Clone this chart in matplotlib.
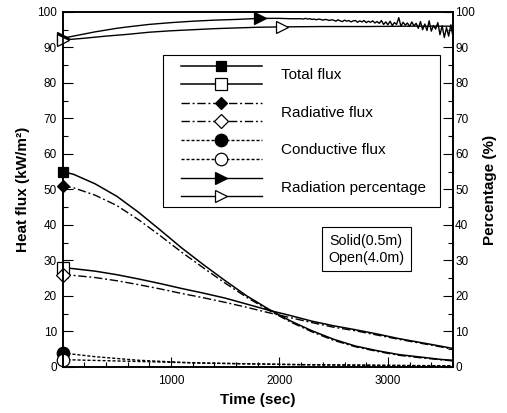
import matplotlib
matplotlib.use("Agg")
import matplotlib.pyplot as plt
from matplotlib.lines import Line2D
from matplotlib.legend_handler import HandlerBase
from matplotlib.ticker import MultipleLocator

plt.rcParams["font.family"] = ["Liberation Sans", "DejaVu Sans"]
plt.rcParams["lines.scale_dashes"] = False

# heat flux, case A (filled markers) and case B (open markers)
t_flux = [0, 100, 300, 500, 700, 900, 1100, 1300, 1500, 1700,
          1900, 2100, 2300, 2500, 2700, 2900, 3100, 3300, 3500, 3600]
total_a = [55.0, 54.3, 51.6, 48.1, 43.6, 38.6, 33.5, 28.8, 24.3, 20.0,
           16.3, 13.0, 10.2, 7.8, 5.9, 4.6, 3.5, 2.8, 2.1, 1.9]
rad_a = [51.0, 50.5, 48.4, 45.5, 41.5, 37.0, 32.3, 27.9, 23.6, 19.6,
         16.0, 12.7, 9.9, 7.5, 5.7, 4.4, 3.3, 2.6, 2.0, 1.7]
cond_a = [4.0, 3.6, 2.9, 2.4, 1.9, 1.6, 1.3, 1.1, 1.0, 0.9,
          0.8, 0.7, 0.6, 0.55, 0.5, 0.45, 0.4, 0.35, 0.3, 0.3]
total_b = [28.0, 27.7, 27.0, 26.0, 24.8, 23.5, 22.1, 20.8, 19.4, 17.7,
           16.0, 14.5, 12.9, 11.6, 10.5, 9.3, 8.0, 6.9, 5.8, 5.2]
rad_b = [26.0, 25.8, 25.2, 24.3, 23.2, 22.0, 20.7, 19.5, 18.2, 16.8,
         15.3, 13.9, 12.5, 11.2, 10.2, 9.0, 7.8, 6.7, 5.6, 5.0]
cond_b = [2.1, 2.0, 1.85, 1.7, 1.55, 1.4, 1.25, 1.1, 1.0, 0.9,
          0.8, 0.7, 0.65, 0.6, 0.55, 0.5, 0.45, 0.4, 0.35, 0.35]

# radiation percentage
t_pct_a = [0, 100, 200, 300, 400, 500, 600, 800, 1000, 1200, 1400, 1600,
           1820, 2000, 2100] + list(range(2200, 3601, 20))
pct_a = [92.6, 93.2, 93.8, 94.4, 94.9, 95.4, 95.8, 96.5, 97.0, 97.4, 97.7, 97.9,
         98.2, 98.2, 98.1,
         98.1, 98.0, 98.2, 98.0, 98.1, 97.9, 98.0, 97.8, 98.0, 97.9, 97.7, 97.9,
         97.8, 97.6, 97.8, 97.7,
         97.4, 97.8, 97.5, 97.3, 97.7, 97.4, 97.6, 97.2, 97.5, 97.6, 97.1, 97.5,
         97.2, 97.6, 97.0, 97.4, 97.1, 97.5, 96.9, 97.3,
         96.8, 97.6, 96.5, 97.2, 96.4, 97.4, 96.2, 97.0, 96.5, 98.4, 96.0, 97.1,
         96.3, 96.9, 95.9, 97.2, 96.1, 96.8,
         95.4, 97.3, 95.0, 96.6, 94.8, 97.5, 94.6, 96.2, 95.2, 97.0, 93.6, 96.1,
         92.8, 95.6, 93.2, 96.4, 93.0]
t_pct_b = [0, 200, 400, 600, 800, 1000, 1200, 1400, 1600, 1800, 2020,
           2400, 2800, 3200, 3600]
pct_b = [92.1, 92.6, 93.2, 93.7, 94.3, 94.7, 95.0, 95.3, 95.5, 95.7, 95.8,
         95.9, 95.9, 96.0, 96.0]

labels = ["Total flux", "Radiative flux", "Conductive flux", "Radiation percentage"]

DASHDOT = (0, (6, 2, 1.4, 2))
DASHED = (0, (2.2, 1.4))


class PairHandler(HandlerBase):
    # two legend lines stacked above each other, one label for the pair
    def create_artists(self, legend, orig_handle, xdescent, ydescent,
                       width, height, fontsize, trans):
        artists = []
        yc = height / 2 - ydescent
        x0 = -xdescent + 0.14 * width
        x1 = -xdescent + width
        for k, h in enumerate(orig_handle):
            y = yc + (0.3 if k == 0 else -0.3) * height
            ln = Line2D([x0, x1], [y, y])
            ln.update_from(h)
            ln.set_marker("None")
            mk = Line2D([(x0 + x1) / 2], [y])
            mk.update_from(h)
            mk.set_linestyle("None")
            for a in (ln, mk):
                a.set_transform(trans)
                artists.append(a)
        return artists


fig = plt.figure(figsize=(5.07, 4.13), dpi=100)
ax = fig.add_axes([0.1233, 0.1114, 0.7702, 0.8596])
ax2 = ax.twinx()

kw = dict(color="black", clip_on=False, markeredgecolor="black", markeredgewidth=0.9)
l_ta, = ax.plot(t_flux, total_a, "-", lw=1.1, marker="s", ms=7.5, markevery=[0], **kw)
l_tb, = ax.plot(t_flux, total_b, "-", lw=1.1, marker="s", ms=8.5, mfc="white", markevery=[0], **kw)
l_ra, = ax.plot(t_flux, rad_a, ls=DASHDOT, lw=1.0, marker="D", ms=6.5, markevery=[0], **kw)
l_rb, = ax.plot(t_flux, rad_b, ls=DASHDOT, lw=1.0, marker="D", ms=7.5, mfc="white", markevery=[0], **kw)
l_ca, = ax.plot(t_flux, cond_a, ls=DASHED, lw=1.0, marker="o", ms=9, markevery=[0], **kw)
l_cb, = ax.plot(t_flux, cond_b, ls=DASHED, lw=1.0, marker="o", ms=9, mfc="white", markevery=[0], **kw)
l_pa, = ax2.plot(t_pct_a, pct_a, "-", lw=1.0, marker=">", ms=8, markevery=[0, 12], **kw)
l_pb, = ax2.plot(t_pct_b, pct_b, "-", lw=1.0, marker=">", ms=8, mfc="white", markevery=[0, 10], **kw)

for a in (ax, ax2):
    a.set_xlim(0, 3600)
    a.set_ylim(0, 100)
    a.yaxis.set_major_locator(MultipleLocator(10))
    a.yaxis.set_minor_locator(MultipleLocator(5))
    for s in a.spines.values():
        s.set_linewidth(1.2)

ax.set_xticks([1000, 2000, 3000])
ax.xaxis.set_minor_locator(MultipleLocator(200))
ax.tick_params(axis="both", which="both", direction="in", labelsize=8.5, width=0.8)
ax.tick_params(axis="both", which="major", length=7)
ax.tick_params(axis="both", which="minor", length=3.5)
ax.tick_params(axis="x", pad=6)
ax.tick_params(axis="y", pad=4)
ax2.tick_params(axis="y", which="both", direction="in", labelsize=8.5, width=0.8, pad=1.5)
ax2.tick_params(axis="y", which="major", length=7)
ax2.tick_params(axis="y", which="minor", length=3.5)

ax.set_xlabel("Time (sec)", fontsize=11, fontweight="bold", labelpad=4)
ax.set_ylabel("Heat flux (kW/m\u00b2)", fontsize=11, fontweight="bold", labelpad=5)
ax2.set_ylabel("Percentage (%)", fontsize=11, fontweight="bold", labelpad=6)

leg = ax2.legend(handles=[(l_ta, l_tb), (l_ra, l_rb), (l_ca, l_cb), (l_pa, l_pb)],
                 labels=labels, handler_map={tuple: PairHandler()},
                 loc="upper left", bbox_to_anchor=(0.257, 0.451, 0.71, 0.428),
                 mode="expand", borderaxespad=0, fontsize=11,
                 handlelength=6.2, handleheight=2.7, labelspacing=0.45,
                 handletextpad=1.2, borderpad=0.3, fancybox=False,
                 edgecolor="black", framealpha=1)
leg.get_frame().set_linewidth(0.8)
leg.set_zorder(10)

ax2.text(0.778, 0.332, "Solid(0.5m)\nOpen(4.0m)", transform=ax2.transAxes,
         ha="center", va="center", multialignment="center", fontsize=10.3,
         linespacing=1.25,
         bbox=dict(boxstyle="square,pad=0.45", fc="white", ec="black", lw=0.8))

fig.savefig("out.png", dpi=100)
